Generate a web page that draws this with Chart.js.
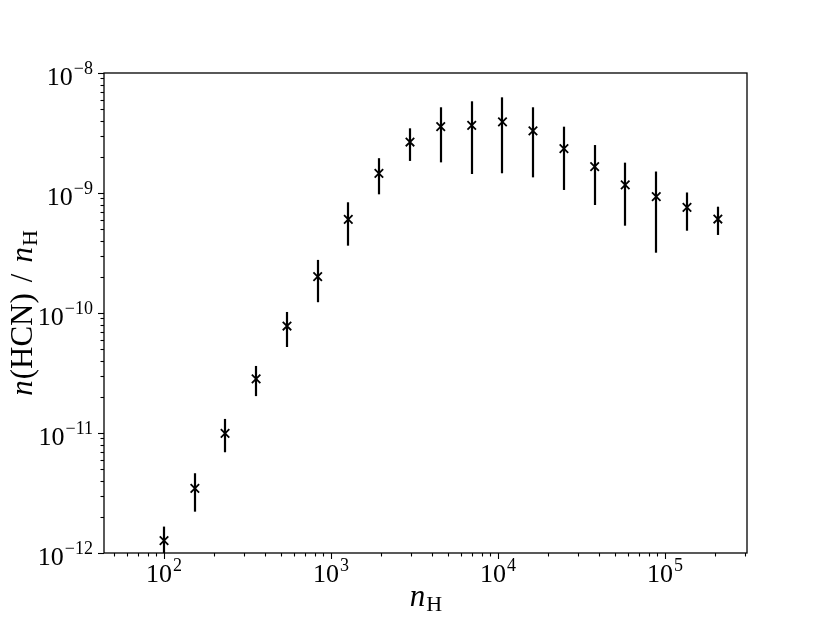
<!DOCTYPE html>
<html>
<head>
<meta charset="utf-8">
<script src="https://cdn.jsdelivr.net/npm/chart.js@4/dist/chart.umd.min.js"></script>
<style>
  html, body { margin: 0; padding: 0; background: #ffffff; }
  #c { display: block; }
</style>
</head>
<body>
<canvas id="c" width="830" height="623"></canvas>
<script>
// ---- data ----
const nH = [100, 153, 232, 356, 545, 832, 1269, 1936, 2972, 4540, 6960, 10640, 16200, 24830, 37930, 57820, 88700, 135500, 207400];
const abundance = [1.27e-12, 3.46e-12, 9.94e-12, 2.82e-11, 7.79e-11, 2.01e-10, 6.04e-10, 1.46e-9, 2.66e-9, 3.57e-9, 3.66e-9, 3.91e-9, 3.29e-9, 2.34e-9, 1.66e-9, 1.17e-9, 9.31e-10, 7.60e-10, 6.07e-10];
const upperErr = [1.66e-12, 4.62e-12, 1.31e-11, 3.62e-11, 1.02e-10, 2.77e-10, 8.37e-10, 1.95e-9, 3.46e-9, 5.18e-9, 5.81e-9, 6.27e-9, 5.18e-9, 3.57e-9, 2.51e-9, 1.79e-9, 1.51e-9, 1.01e-9, 7.69e-10];
const lowerErr = [0.87e-12, 2.21e-12, 6.91e-12, 2.03e-11, 5.21e-11, 1.23e-10, 3.64e-10, 9.75e-10, 1.85e-9, 1.80e-9, 1.44e-9, 1.46e-9, 1.35e-9, 1.06e-9, 7.94e-10, 5.34e-10, 3.18e-10, 4.85e-10, 4.47e-10];
const xTickExponents = [2, 3, 4, 5];
const yTickExponents = [-8, -9, -10, -11, -12];
const xRange = [43.7, 310000];
const yRange = [1e-12, 1e-8];

// ---- styling ----
const SERIF = '"Liberation Serif", "DejaVu Serif", serif';
const BASE_PX = 26;
const SUP_PX = 18;
const TITLE_PX = 31;
const TITLE_SUB_PX = 22;

function drawPow(ctx, exp, x, baseline, align) {
  const base = '10';
  const sup = String(exp).replace('-', '\u2212');
  ctx.font = BASE_PX + 'px ' + SERIF;
  const wb = ctx.measureText(base).width;
  ctx.font = SUP_PX + 'px ' + SERIF;
  const ws = ctx.measureText(sup).width;
  const total = wb + 1 + ws;
  let left = align === 'right' ? x - total : x - total / 2;
  ctx.textAlign = 'left';
  ctx.textBaseline = 'alphabetic';
  ctx.font = BASE_PX + 'px ' + SERIF;
  ctx.fillText(base, left, baseline);
  ctx.font = SUP_PX + 'px ' + SERIF;
  ctx.fillText(sup, left + wb + 1, baseline - 11);
}

const errorBars = {
  id: 'errorBars',
  beforeDatasetsDraw(chart) {
    const { ctx, chartArea: a, scales: { x, y } } = chart;
    ctx.save();
    ctx.beginPath();
    ctx.rect(a.left, a.top, a.right - a.left, a.bottom - a.top);
    ctx.clip();
    ctx.strokeStyle = '#000';
    ctx.lineWidth = 2.2;
    ctx.lineCap = 'butt';
    for (let i = 0; i < nH.length; i++) {
      const px = Math.round(x.getPixelForValue(nH[i]));
      ctx.beginPath();
      ctx.moveTo(px, y.getPixelForValue(lowerErr[i]));
      ctx.lineTo(px, y.getPixelForValue(upperErr[i]));
      ctx.stroke();
    }
    ctx.restore();
  }
};

const frameAndAxes = {
  id: 'frameAndAxes',
  beforeDraw(chart) {
    const { ctx, width, height } = chart;
    ctx.save();
    ctx.fillStyle = '#fff';
    ctx.fillRect(0, 0, width, height);
    ctx.restore();
  },
  afterDraw(chart) {
    const { ctx, chartArea: a, scales: { x, y } } = chart;
    ctx.save();
    ctx.strokeStyle = '#000';
    ctx.fillStyle = '#000';
    // frame
    ctx.lineWidth = 1.3;
    ctx.strokeRect(a.left, a.top, a.right - a.left, a.bottom - a.top);
    // x ticks
    ctx.lineWidth = 1.1;
    for (let k = 1; k <= 5; k++) {
      for (let m = 1; m <= 9; m++) {
        const v = m * Math.pow(10, k);
        if (v < xRange[0] || v > xRange[1]) continue;
        const px = Math.round(x.getPixelForValue(v)) + 0.5;
        const len = m === 1 ? 6 : 3.5;
        ctx.beginPath();
        ctx.moveTo(px, a.bottom);
        ctx.lineTo(px, a.bottom + len);
        ctx.stroke();
      }
    }
    // y ticks
    for (let k = -12; k <= -8; k++) {
      for (let m = 1; m <= 9; m++) {
        const v = m * Math.pow(10, k);
        if (v < yRange[0] * 0.999 || v > yRange[1] * 1.001) continue;
        const py = Math.round(y.getPixelForValue(v)) + 0.5;
        const len = m === 1 ? 6 : 3.5;
        ctx.beginPath();
        ctx.moveTo(a.left, py);
        ctx.lineTo(a.left - len, py);
        ctx.stroke();
      }
    }
    // tick labels
    xTickExponents.forEach(e => {
      const px = x.getPixelForValue(Math.pow(10, e));
      drawPow(ctx, e, px, a.bottom + 29, 'center');
    });
    yTickExponents.forEach(e => {
      const py = y.getPixelForValue(Math.pow(10, e));
      drawPow(ctx, e, a.left - 11, py + 12, 'right');
    });

    // x title: n_H
    const cx = (a.left + a.right) / 2;
    ctx.textAlign = 'left';
    ctx.textBaseline = 'alphabetic';
    ctx.font = 'italic ' + TITLE_PX + 'px ' + SERIF;
    const wn = ctx.measureText('n').width;
    ctx.font = TITLE_SUB_PX + 'px ' + SERIF;
    const wH = ctx.measureText('H').width;
    const tx = cx - (wn + wH) / 2;
    ctx.font = 'italic ' + TITLE_PX + 'px ' + SERIF;
    ctx.fillText('n', tx, 606);
    ctx.font = TITLE_SUB_PX + 'px ' + SERIF;
    ctx.fillText('H', tx + wn + 1, 611);

    // y title: n(HCN) / n_H (rotated)
    const cy = (a.top + a.bottom) / 2;
    ctx.translate(32, cy);
    ctx.rotate(-Math.PI / 2);
    const parts = [
      { t: 'n', f: 'italic ' + TITLE_PX + 'px ' + SERIF, dy: 0, gap: 1 },
      { t: '(HCN)', f: TITLE_PX + 'px ' + SERIF, dy: 0, gap: 11 },
      { t: '/', f: TITLE_PX + 'px ' + SERIF, dy: 0, gap: 11 },
      { t: 'n', f: 'italic ' + TITLE_PX + 'px ' + SERIF, dy: 0, gap: 1 },
      { t: 'H', f: TITLE_SUB_PX + 'px ' + SERIF, dy: 5, gap: 0 }
    ];
    let tw = 0;
    parts.forEach(p => { ctx.font = p.f; p.w = ctx.measureText(p.t).width; tw += p.w + p.gap; });
    let ox = -tw / 2;
    parts.forEach(p => { ctx.font = p.f; ctx.fillText(p.t, ox, p.dy); ox += p.w + p.gap; });
    ctx.restore();
  }
};

new Chart(document.getElementById('c'), {
  type: 'scatter',
  data: {
    datasets: [{
      data: nH.map((v, i) => ({ x: v, y: abundance[i] })),
      pointStyle: 'crossRot',
      pointRadius: 6,
      pointHoverRadius: 6,
      borderColor: '#000',
      backgroundColor: '#000',
      borderWidth: 1.8,
      showLine: false
    }]
  },
  options: {
    responsive: false,
    devicePixelRatio: 1,
    animation: false,
    events: [],
    layout: { padding: { left: 104, right: 83, top: 73, bottom: 70 } },
    plugins: { legend: { display: false }, tooltip: { enabled: false } },
    scales: {
      x: {
        type: 'logarithmic', min: xRange[0], max: xRange[1],
        grid: { display: false }, border: { display: false },
        ticks: { display: false },
        afterFit(s) { s.height = 0; }
      },
      y: {
        type: 'logarithmic', min: yRange[0], max: yRange[1],
        grid: { display: false }, border: { display: false },
        ticks: { display: false },
        afterFit(s) { s.width = 0; }
      }
    }
  },
  plugins: [errorBars, frameAndAxes]
});
</script>
</body>
</html>
